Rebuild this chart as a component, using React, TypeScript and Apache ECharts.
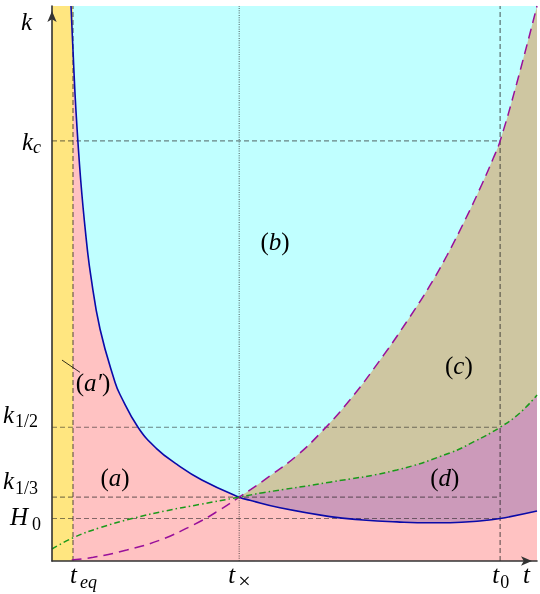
import { useEffect, useRef } from 'react';
import * as echarts from 'echarts';

// ---- Data (arbitrary units: t in [0,100], k in [0,100]) ----
const T_EQ = 4.33;
const T_X = 38.6;
const T_0 = 92.4;
const K_C = 75.7;
const K_HALF = 24.1;
const K_THIRD = 11.5;
const H_0 = 7.66;

// comoving Hubble scale k = aH (blue)
const hubbleT = [3.92, 4.33, 4.95, 5.92, 7.0, 7.98, 9.9, 12.99, 14.02, 17.73, 21.5, 25.77, 30.9, 38.6, 40.8, 47.0, 57.3, 64.1, 71.1, 78.0, 82.1, 88.2, 92.4, 100];
const hubbleK = [100, 92, 81, 68.6, 58.5, 51.5, 41.8, 32.2, 30.0, 24.1, 20.3, 17.4, 14.6, 11.5, 10.95, 9.6, 8.0, 7.4, 7.05, 6.88, 6.9, 7.22, 7.66, 9.0];

// purple dashed curve
const purpleT = [4.06, 8.52, 15.4, 22.3, 29.1, 34.0, 38.6, 44.9, 50.5, 55.5, 61.4, 68.3, 73.5, 77.9, 81.4, 85.2, 88.6, 91.0, 92.4, 95.8, 100];
const purpleK = [0.18, 0.67, 1.98, 3.78, 6.49, 8.88, 11.5, 15.3, 19.0, 23.2, 29.0, 37.0, 43.6, 49.6, 55.0, 61.5, 67.8, 72.6, 75.7, 86.0, 100];

// green dash-dot curve
const greenT = [0, 4.39, 9.9, 16.7, 23.6, 30.5, 38.6, 43.5, 57.3, 71.1, 82.1, 87.0, 92.4, 96.5, 100];
const greenK = [2.16, 4.2, 6.0, 7.69, 9.06, 10.2, 11.5, 12.3, 14.2, 16.4, 19.5, 21.5, 24.1, 26.7, 29.9];

const hLines = [K_C, K_HALF, K_THIRD, H_0];
const vDashed = [T_EQ, T_0];
const vDotted = [T_X];

const yTickMain = ['k', 'k', 'k', 'H'];
const yTickSub = ['c', '1/2', '1/3', '0'];
const yTickSubItalic = [true, false, false, false];
const yTickValues = [K_C, K_HALF, K_THIRD, H_0];

const xTickMain = ['t', 't', 't'];
const xTickSub = ['eq', '×', '0'];
const xTickSubItalic = [true, false, false];
const xTickValues = [T_EQ, T_X, T_0];

const regionNames = ['a', 'a′', 'b', 'c', 'd'];
const regionT = [13.0, 8.45, 46.0, 83.9, 81.0];
const regionK = [15.0, 32.1, 57.5, 35.3, 15.1];

// ---- Styling ----
const C_YELLOW = '#FFE680';
const C_PINK = '#FFC2C2';
const C_CYAN = '#C0FFFF';
const C_TAN = '#CEC6A1';
const C_MAUVE = '#CC9ABA';
const C_BLUE = '#0A0AA8';
const C_PURPLE = '#99109A';
const C_GREEN = '#1A9A1A';
const GRID = { left: 52, top: 6, width: 485, height: 555 };
const FONT = '"Liberation Serif", "DejaVu Serif", serif';
const SMOOTH = 0.45;

const zip = (a: number[], b: number[]) => a.map((v, i) => [v, b[i]]);

function areaSeries(data: number[][], color: string, smooth: any = SMOOTH) {
  return {
    type: 'line',
    data,
    smooth,
    symbol: 'none',
    silent: true,
    lineStyle: { width: 0, opacity: 0 },
    areaStyle: { color, opacity: 1 },
    z: 1,
  };
}

function lineSeries(data: number[][], color: string, type: any, width: number, smooth: any, z = 3) {
  return {
    type: 'line',
    data,
    smooth,
    symbol: 'none',
    silent: true,
    lineStyle: { color, width, type },
    z,
  };
}

function txt(text: string, left: number, baseline: number, size: number, italic: boolean) {
  return {
    type: 'text',
    x: left,
    y: baseline - 0.3375 * size,
    z: 100,
    silent: true,
    style: {
      text,
      font: `${italic ? 'italic ' : ''}${size}px ${FONT}`,
      fill: '#000',
      textAlign: 'left',
      textVerticalAlign: 'middle',
      align: 'left',
      verticalAlign: 'middle',
    },
  };
}

export default function App() {
  const ref = useRef<HTMLDivElement>(null);
  useEffect(() => {
    const chart = echarts.init(ref.current!, null, { renderer: 'svg' });
    const purpleLate = zip(purpleT, purpleK).filter((p) => p[0] >= T_X);
    const greenLate = zip(greenT, greenK).filter((p) => p[0] >= T_X);
    const refStyle = 'rgba(30,30,30,0.55)';
    const axisCommon = {
      type: 'value',
      min: 0,
      max: 100,
      z: 10,
      axisLine: {
        show: true,
        symbol: ['none', 'arrow'],
        symbolSize: [7, 11],
        symbolOffset: [0, -5],
        lineStyle: { color: '#333', width: 1.6 },
      },
      axisTick: { show: false },
      axisLabel: { show: false },
      splitLine: { show: false },
    };
    chart.setOption({
      animation: false,
      grid: { ...GRID, show: true, backgroundColor: C_CYAN, borderWidth: 0 },
      xAxis: axisCommon,
      yAxis: axisCommon,
      series: [
        areaSeries(purpleLate, C_TAN),
        areaSeries(greenLate, C_MAUVE),
        areaSeries(zip(hubbleT, hubbleK), C_PINK),
        areaSeries([[0, 100], [T_EQ, 100]], C_YELLOW, false),
        ...hLines.map((v) => lineSeries([[0, v], [T_0, v]], refStyle, [5, 3], 1.2, false, 2)),
        ...vDashed.map((v) => lineSeries([[v, 0], [v, 100]], refStyle, [5, 3], 1.4, false, 2)),
        ...vDotted.map((v) => lineSeries([[v, 0], [v, 100]], 'rgba(30,30,30,0.6)', [1, 1.3], 1.2, false, 2)),
        lineSeries(zip(hubbleT, hubbleK), C_BLUE, 'solid', 1.6, SMOOTH),
        lineSeries(zip(purpleT, purpleK), C_PURPLE, [10, 6], 1.5, SMOOTH),
        lineSeries(zip(greenT, greenK), C_GREEN, [6, 3, 1.5, 3], 1.5, SMOOTH),
      ],
    });

    const px = (x: number, y: number) => chart.convertToPixel({ gridIndex: 0 }, [x, y]) as number[];
    const els: any[] = [];
    const MS = 25;
    const SS = 18;
    // y-axis name
    const top = px(0, 100);
    els.push(txt('k', top[0] - 31, top[1] + 24, MS, true));
    // y tick labels
    const yLayout = [
      { mx: -30, mb: 9, sx: -19, sb: 12 },
      { mx: -49, mb: -4, sx: -37, sb: 0 },
      { mx: -49, mb: -8, sx: -37, sb: -3 },
      { mx: -42, mb: 6.5, sx: -20, sb: 11.5 },
    ];
    yTickValues.forEach((v, i) => {
      const p = px(0, v);
      const l = yLayout[i];
      els.push(txt(yTickMain[i], p[0] + l.mx, p[1] + l.mb, MS, true));
      els.push(txt(yTickSub[i], p[0] + l.sx, p[1] + l.sb, SS, yTickSubItalic[i]));
    });
    // x tick labels
    const xLayout = [
      { mx: -3, sx: 7, ss: SS },
      { mx: -11, sx: -1, ss: 22 },
      { mx: -8, sx: 0, ss: SS },
    ];
    xTickValues.forEach((v, i) => {
      const p = px(v, 0);
      const l = xLayout[i];
      els.push(txt(xTickMain[i], p[0] + l.mx, p[1] + 22, MS, true));
      els.push(txt(xTickSub[i], p[0] + l.sx, p[1] + 27, l.ss, xTickSubItalic[i]));
    });
    const right = px(100, 0);
    els.push(txt('t', right[0] - 14, right[1] + 22, MS, true));
    // region labels
    regionNames.forEach((n, i) => {
      const p = px(regionT[i], regionK[i]);
      els.push({
        type: 'text',
        x: p[0],
        y: p[1],
        z: 100,
        silent: true,
        style: {
          text: `{p|(}{i|${n}}{p|)}`,
          rich: {
            p: { font: `${MS}px ${FONT}`, fill: '#000' },
            i: { font: `italic ${MS}px ${FONT}`, fill: '#000' },
          },
          textAlign: 'center',
          textVerticalAlign: 'middle',
          align: 'center',
          verticalAlign: 'middle',
        },
      });
    });
    // leader line for (a')
    const l1 = px(2.06, 36.2);
    const l2 = px(5.77, 34.0);
    els.push({
      type: 'line',
      z: 100,
      silent: true,
      shape: { x1: l1[0], y1: l1[1], x2: l2[0], y2: l2[1] },
      style: { stroke: '#000', lineWidth: 0.8 },
    });
    chart.setOption({ graphic: { elements: els } });
    return () => chart.dispose();
  }, []);
  return <div ref={ref} style={{ position: 'fixed', left: 0, top: 0, width: 540, height: 594 }} />;
}
